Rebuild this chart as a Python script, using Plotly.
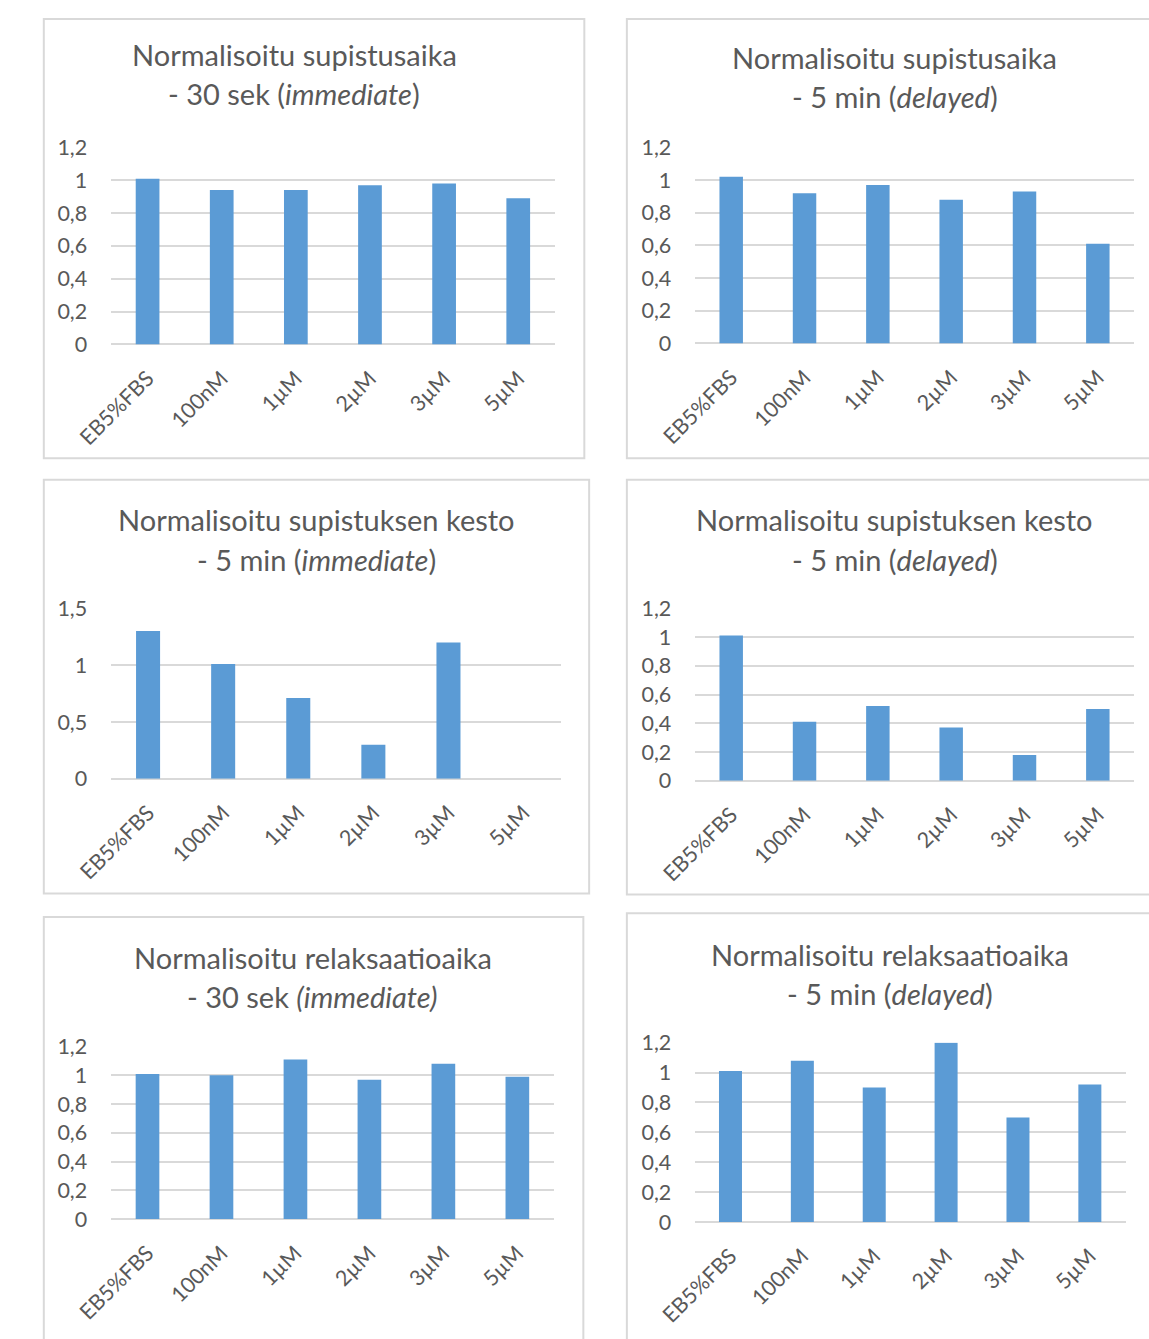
import plotly.graph_objects as go

# Canvas size in pixels
W, H = 1149, 1339

categories = ["EB5%FBS", "100nM", "1µM", "2µM", "3µM", "5µM"]

supistusaika_30s = [1.01, 0.94, 0.94, 0.97, 0.98, 0.89]
supistusaika_5min = [1.02, 0.92, 0.97, 0.88, 0.93, 0.61]
kesto_5min_immediate = [1.30, 1.01, 0.71, 0.30, 1.20, None]
kesto_5min_delayed = [1.01, 0.41, 0.52, 0.37, 0.18, 0.50]
relaksaatio_30s = [1.01, 1.00, 1.11, 0.97, 1.08, 0.99]
relaksaatio_5min = [1.01, 1.08, 0.90, 1.20, 0.70, 0.92]

titles = [
    ("Normalisoitu supistusaika", "- 30 sek (<i>immediate</i>)"),
    ("Normalisoitu supistusaika", "- 5 min (<i>delayed</i>)"),
    ("Normalisoitu supistuksen kesto", "- 5 min (<i>immediate</i>)"),
    ("Normalisoitu supistuksen kesto", "- 5 min (<i>delayed</i>)"),
    ("Normalisoitu relaksaatioaika", "- 30 sek <i>(immediate)</i>"),
    ("Normalisoitu relaksaatioaika", "- 5 min (<i>delayed</i>)"),
]
series = [supistusaika_30s, supistusaika_5min, kesto_5min_immediate,
          kesto_5min_delayed, relaksaatio_30s, relaksaatio_5min]
y_max = [1.2, 1.2, 1.5, 1.2, 1.2, 1.2]
y_step = [0.2, 0.2, 0.5, 0.2, 0.2, 0.2]

# Layout of each panel in pixels:
# plot area (x0, x1, ytop, ybottom), outer frame (x0, x1, y0, y1), title centre (x, y1, y2)
plot_px = [
    (75, 535, 137, 338),
    (679, 1134, 137, 337),
    (75, 541, 607, 781),
    (679, 1134, 607, 783),
    (75, 534, 1054, 1230),
    (679, 1125, 1050, 1233),
]
frame_px = [
    (6, 565, 6, 454),
    (609, 1170, 6, 454),
    (6, 570, 476, 898),
    (609, 1170, 476, 899),
    (6, 564, 922, 1360),
    (609, 1170, 918, 1360),
]
title_px = [
    (265, 42, 82),
    (886, 45, 85),
    (288, 517, 557),
    (886, 517, 557),
    (284, 963, 1003),
    (881, 960, 1000),
]

BAR = "#5b9bd5"
GRID = "#d9d9d9"
TEXT = "#595959"
FONT = "Lato, Carlito, Calibri, sans-serif"


def px_x(x):
    return x / W


def px_y(y):
    return 1 - y / H


fig = go.Figure()
shapes = []
annotations = []

for i in range(6):
    n = "" if i == 0 else str(i + 1)
    xa, ya = "x" + n, "y" + n
    fig.add_trace(go.Bar(
        x=categories, y=series[i], xaxis=xa, yaxis=ya,
        marker=dict(color=BAR, line=dict(width=0)),
        showlegend=False, hoverinfo="x+y",
    ))
    x0, x1, yt, yb = plot_px[i]
    fig.layout["xaxis" + n] = dict(
        domain=[px_x(x0), px_x(x1)], anchor=ya,
        tickangle=-45, tickfont=dict(size=21.5, color=TEXT, family=FONT),
        ticks="outside", ticklen=12, tickcolor="rgba(0,0,0,0)",
        showgrid=False, showline=False, zeroline=False, fixedrange=True,
    )
    fig.layout["yaxis" + n] = dict(
        domain=[px_y(yb), px_y(yt)], anchor=xa,
        range=[0, y_max[i] * 1.0005], dtick=y_step[i], tick0=0,
        tickfont=dict(size=21.5, color=TEXT, family=FONT),
        ticks="outside", ticklen=18, tickcolor="rgba(0,0,0,0)",
        showgrid=True, gridcolor=GRID, gridwidth=1.5,
        zeroline=True, zerolinecolor=GRID, zerolinewidth=1.5,
        showline=False, fixedrange=True,
    )
    fx0, fx1, fy0, fy1 = frame_px[i]
    shapes.append(dict(
        type="rect", xref="paper", yref="paper",
        x0=px_x(fx0), x1=px_x(fx1), y0=px_y(fy1), y1=px_y(fy0),
        line=dict(color=GRID, width=2), fillcolor="rgba(0,0,0,0)", layer="below",
    ))
    tx, ty1, ty2 = title_px[i]
    for line, ty in zip(titles[i], (ty1, ty2)):
        annotations.append(dict(
            text=line, xref="paper", yref="paper",
            x=px_x(tx), y=px_y(ty), xanchor="center", yanchor="middle",
            showarrow=False, font=dict(size=29, color=TEXT, family=FONT),
        ))

fig.update_layout(
    width=W, height=H, margin=dict(l=0, r=0, t=0, b=0),
    paper_bgcolor="white", plot_bgcolor="white",
    bargap=0.68, separators=", ",
    shapes=shapes, annotations=annotations,
    font=dict(family=FONT, color=TEXT),
)

fig.write_html("out.html")
